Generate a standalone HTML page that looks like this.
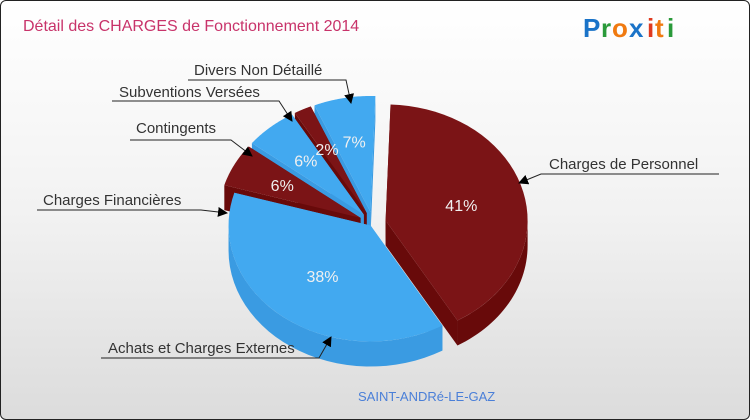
<!DOCTYPE html>
<html><head><meta charset="utf-8"><style>
html,body{margin:0;padding:0;}
body{width:750px;height:420px;overflow:hidden;font-family:"Liberation Sans",sans-serif;}
#frame{position:absolute;left:0;top:0;width:748px;height:418px;border:1px solid #222;border-radius:6px;background:linear-gradient(#ffffff,#f2f2f2 50%,#dcdcdc);overflow:hidden;}
</style></head><body>
<div id="frame">
<svg id="chart" width="750" height="420" xmlns="http://www.w3.org/2000/svg">
<defs><marker id="arr" markerWidth="10" markerHeight="10" refX="9" refY="5" orient="auto" markerUnits="userSpaceOnUse"><path d="M0,0 L10,5 L0,10 z" fill="#000"/></marker></defs>
<text x="22" y="30" font-size="16" fill="#c8336a">Détail des CHARGES de Fonctionnement 2014</text>
<g font-size="26" font-weight="bold" font-family="'Liberation Sans',sans-serif">
<text x="582" y="36" fill="#1a73c8">P</text><text x="600" y="36" fill="#2a9a3a">r</text><text x="611" y="36" fill="#f07a10">o</text><text x="628" y="36" fill="#1a73c8">x</text><text x="646" y="36" fill="#e03a20">i</text><text x="654" y="36" fill="#f07a10">t</text><text x="666" y="36" fill="#2a9a3a">i</text>
</g>
<g id="slices"></g><g id="pcts"></g><g id="labels"></g>
<text x="357" y="400" font-size="13" fill="#4a7fd8">SAINT-ANDRé-LE-GAZ</text>
</svg>
</div>
<script>
const categories=["Charges de Personnel","Achats et Charges Externes","Charges Financières","Contingents","Subventions Versées","Divers Non Détaillé"];
const values=[41,38,6,6,2,7];
const pctLabels=["41%","38%","6%","6%","2%","7%"];
const CX=372,CY=222,RX=142,RY=116,DEPTH=25,START=2;
const explode=[13,4,14,14,14,14];
const topCol=["#7b1416","#42a9f0","#7b1416","#42a9f0","#7b1416","#42a9f0"];
const sideCol=["#680a0a","#3a9be2","#680a0a","#3a9be2","#680a0a","#3a9be2"];
const labelText=[[548,168],[107,352],[42,204],[135,132],[118,96],[193,74]];
const labelLine=[[[718,173],[540,173],[518,182]],[[100,357],[318,357],[330,336]],[[36,209],[200,209],[226,212]],[[129,139],[230,139],[251,155]],[[111,100],[278,100],[291,120]],[[187,79],[345,79],[350,102]]];
const NS="http://www.w3.org/2000/svg";
const rad=d=>d*Math.PI/180;
function pt(cx,cy,t,r){r=r||1;return [cx+RX*r*Math.sin(rad(t)),cy-RY*r*Math.cos(rad(t))];}
function mk(tag,attrs,parent){const e=document.createElementNS(NS,tag);for(const k in attrs)e.setAttribute(k,attrs[k]);parent.appendChild(e);return e;}
const total=values.reduce((a,b)=>a+b,0);
const slicesG=document.getElementById('slices'),pcts=document.getElementById('pcts'),labels=document.getElementById('labels');
let a=START;const geo=[];
values.forEach((v,i)=>{const a0=a,a1=a+v/total*360;a=a1;geo.push({i,a0,a1,mid:(a0+a1)/2});});
const order=geo.slice().sort((p,q)=>Math.cos(rad(q.mid))-Math.cos(rad(p.mid)));
order.forEach(g=>{
  const {i,a0,a1,mid}=g;
  const cx=CX+explode[i]*Math.sin(rad(mid)),cy=CY-explode[i]*Math.cos(rad(mid))*0.8;
  const grp=mk('g',{},slicesG);
  
  
  [a0,a1].forEach(ang=>{
    const p=pt(cx,cy,ang);
    const w=mk('path',{d:`M${cx},${cy} L${p[0]},${p[1]} L${p[0]},${p[1]+DEPTH} L${cx},${cy+DEPTH} Z`,fill:sideCol[i]},grp);
    
    
  });
  const s=Math.max(a0,90),e=Math.min(a1,270);
  if(e>s){
    let d='',back='';
    for(let k=0;k<=30;k++){const t=s+(e-s)*k/30;const p=pt(cx,cy,t);d+=(d?'L':'M')+p[0]+','+p[1]+' ';back='L'+p[0]+','+(p[1]+DEPTH)+' '+back;}
    const w=mk('path',{d:d+back+'Z',fill:sideCol[i]},grp);
    
    
  }
  let d=`M${cx},${cy} `;
  for(let k=0;k<=40;k++){const p=pt(cx,cy,a0+(a1-a0)*k/40);d+='L'+p[0]+','+p[1]+' ';}
  const top=mk('path',{d:d+'Z',fill:topCol[i]},grp);
  
  
  const lp=pt(cx,cy,mid,values[i]<10?0.62:0.55);
  const t=mk('text',{x:lp[0],y:lp[1]+6,'font-size':16,fill:'#f0f0f0','text-anchor':'middle'},pcts);
  t.textContent=pctLabels[i];
  
  
});
categories.forEach((c,i)=>{
  const L=labelLine[i];
  const pl=mk('polyline',{points:L.map(p=>p.join(',')).join(' '),fill:'none',stroke:'#222','stroke-width':1,'marker-end':'url(#arr)'},labels);
  
  
  const lt=mk('text',{x:labelText[i][0],y:labelText[i][1],'font-size':15,fill:'#333'},labels);
  lt.textContent=c;
  
  
});
</script>
</body></html>
